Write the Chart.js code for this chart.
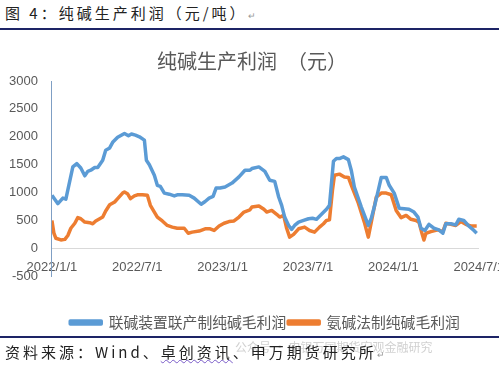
<!DOCTYPE html>
<html lang="zh">
<head>
<meta charset="UTF-8">
<title>纯碱生产利润</title>
<script src="https://cdn.jsdelivr.net/npm/chart.js"></script>
<style>
    html, body { margin: 0; padding: 0; background: #fff; }
    body { width: 499px; height: 367px; overflow: hidden; position: relative; font-family: "Noto Sans CJK SC", sans-serif; }
    .cap { position: absolute; left: 5px; top: 2px; font-size: 15px; letter-spacing: 3px; color: #222; white-space: nowrap; }
    .cap small, .src small { font-size: 9px; color: #999; letter-spacing: 0; }
    .rule1 { position: absolute; left: 0; top: 28px; width: 499px; height: 2px; background: #1d2466; }
    .rule2 { position: absolute; left: 0; top: 336px; width: 499px; height: 2px; background: #1d2466; z-index: 2; }
    .box { position: absolute; left: 0; top: 31px; width: 507px; height: 309px; }
    .src { position: absolute; left: 5px; top: 341px; font-size: 15px; letter-spacing: 3px; color: #222; white-space: nowrap; }
    .src u { text-decoration: underline wavy #7a5cc8; text-decoration-thickness: 1px; }
    .wm { position: absolute; left: 235px; top: 338px; font-size: 12px; color: rgba(150,150,150,0.45); white-space: nowrap; }
</style>
</head>
<body>
<div class="cap">图 4：纯碱生产利润（元/吨）<small>↵</small></div>
<div class="rule1"></div>
<div class="box"><canvas id="grafico"></canvas></div>
<div class="rule2"></div>
<div class="wm">公众号 · 申银万国期货宏观金融研究</div>
<div class="src">资料来源：Wind、<u>卓创资讯</u>、申万期货研究所<small>↵</small></div>

<script>
    // x = months since 2022/1/1
    const tickLabels = ['2022/1/1', '2022/7/1', '2023/1/1', '2023/7/1', '2024/1/1', '2024/7/1'];
    const seriesNames = ['联碱装置联产制纯碱毛利润', '氨碱法制纯碱毛利润'];

    const lianjianX = [0, 0.42, 0.77, 0.98, 1.47, 1.75, 2.03, 2.31, 2.52, 2.73, 3.01, 3.22, 3.57, 3.78, 4.06, 4.27, 4.62, 5.10, 5.38, 5.59,
        5.87, 6.15, 6.50, 6.64, 6.85, 7.20, 7.41, 7.62, 7.90, 8.25, 8.60, 8.81, 9.16, 9.65, 10.0, 10.49, 10.77, 11.05, 11.33, 11.54,
        11.82, 12.17, 12.66, 13.15, 13.57, 13.92, 14.06, 14.55, 14.97, 15.31, 15.66, 15.94, 16.15, 16.36, 16.64, 16.85, 17.06, 17.34, 17.69, 18.04,
        18.32, 18.60, 18.95, 19.30, 19.51, 19.79, 20.0, 20.21, 20.49, 20.84, 21.05, 21.26, 21.75, 22.24, 22.45, 22.66, 22.94, 23.15, 23.50, 23.71,
        24.06, 24.41, 24.76, 25.10, 25.45, 25.73, 25.94, 26.22, 26.50, 26.85, 27.20, 27.48, 27.69, 28.04, 28.39, 28.60, 28.95, 29.30, 29.58, 29.86];
    const lianjianY = [950, 800, 900, 880, 1460, 1520, 1440, 1300, 1380, 1400, 1450, 1450, 1580, 1760, 1800, 1900, 1990, 2060, 2020, 2050,
        2030, 2000, 1940, 1580, 1500, 1310, 1130, 1110, 990, 970, 940, 960, 960, 950, 900, 790, 840, 900, 930, 1080,
        1080, 1100, 1170, 1280, 1400, 1400, 1430, 1460, 1380, 1220, 1200, 920, 770, 560, 410, 340, 410, 470, 500, 530,
        540, 520, 610, 700, 770, 1560, 1610, 1610, 1640, 1590, 1390, 1100, 740, 410, 540, 740, 1040, 1270, 1270, 1130,
        990, 720, 710, 700, 650, 560, 360, 320, 430, 360, 330, 270, 440, 440, 420, 520, 500, 400, 340, 270];

    const anjianX = [0, 0.14, 0.28, 0.63, 0.91, 1.12, 1.33, 1.61, 1.82, 2.03, 2.31, 2.66, 2.87, 3.08, 3.36, 3.57, 3.78, 4.06, 4.41, 4.62,
        4.97, 5.10, 5.31, 5.52, 5.80, 6.01, 6.36, 6.71, 6.92, 7.20, 7.41, 7.76, 8.11, 8.46, 8.81, 9.30, 9.58, 9.86, 10.35, 10.77,
        11.12, 11.40, 11.75, 12.10, 12.45, 12.80, 13.15, 13.50, 13.92, 14.06, 14.55, 14.90, 15.10, 15.45, 15.80, 16.01, 16.29, 16.50, 16.71, 16.99,
        17.34, 17.76, 18.11, 18.46, 18.81, 19.09, 19.30, 19.51, 19.72, 19.86, 20.21, 20.56, 20.84, 21.05, 21.54, 21.96, 22.24, 22.45, 22.80, 23.15,
        23.50, 23.85, 24.20, 24.55, 24.90, 25.24, 25.59, 25.80, 26.01, 26.15, 26.29, 26.64, 27.13, 27.48, 27.69, 28.04, 28.39, 28.74, 29.09, 29.44, 29.86];
    const anjianY = [500, 270, 180, 150, 160, 230, 360, 450, 550, 530, 470, 460, 440, 490, 530, 560, 670, 780, 830, 890,
        990, 1010, 980, 890, 940, 960, 960, 950, 770, 650, 560, 490, 410, 380, 360, 360, 270, 290, 310, 350,
        350, 320, 400, 450, 480, 490, 560, 650, 690, 740, 760, 700, 650, 680, 610, 560, 590, 360, 200, 250,
        350, 380, 320, 290, 380, 440, 500, 510, 1040, 1310, 1330, 1280, 1270, 1130, 810, 470, 200, 470, 920, 990,
        990, 960, 680, 550, 590, 520, 500, 470, 270, 150, 270, 300, 330, 300, 450, 430, 410, 480, 430, 400, 400];

    function pares(xs, ys) {
        return xs.map(function (x, i) { return { x: x, y: ys[i] }; });
    }

    const fonteEixo = { family: 'Arial, "Liberation Sans"', size: 13 };

    // title sits a bit left of centre and the legend a bit right, as in the original
    const desloca = {
        id: 'desloca',
        afterLayout: function (chart) {
            chart.titleBlock.left -= 3;
            chart.titleBlock.right -= 3;
            chart.legend.left += 10;
            chart.legend.right += 10;
        }
    };

    const ctx = document.getElementById('grafico');
    new Chart(ctx, {
        type: 'line',
        data: {
            datasets: [{
                label: seriesNames[0],
                data: pares(lianjianX, lianjianY),
                borderColor: '#5b9bd5',
                backgroundColor: '#5b9bd5',
                borderWidth: 3.5,
                pointRadius: 0,
                borderJoinStyle: 'round'
            }, {
                label: seriesNames[1],
                data: pares(anjianX, anjianY),
                borderColor: '#ed7d31',
                backgroundColor: '#ed7d31',
                borderWidth: 3.5,
                pointRadius: 0,
                borderJoinStyle: 'round'
            }]
        },
        plugins: [desloca],
        options: {
            responsive: true,
            maintainAspectRatio: false,
            animation: false,
            layout: { padding: { left: 3, top: 0, right: 0, bottom: 0 } },
            plugins: {
                title: {
                    display: true,
                    text: '纯碱生产利润　（元）',
                    color: '#595959',
                    font: { family: '"Noto Sans CJK SC"', size: 20, weight: 'normal' },
                    padding: { top: 18, bottom: 8 }
                },
                legend: {
                    position: 'bottom',
                    labels: {
                        boxWidth: 31,
                        boxHeight: 3,
                        color: '#595959',
                        padding: 2,
                        font: { family: '"Noto Sans CJK SC"', size: 14.8 }
                    }
                },
                tooltip: { enabled: false }
            },
            scales: {
                x: {
                    type: 'linear',
                    min: 0,
                    max: 30,
                    position: { y: 0 },
                    grid: { display: false },
                    border: { display: true, color: '#d9d9d9', width: 1 },
                    ticks: {
                        stepSize: 6,
                        color: '#595959',
                        padding: 3,
                        maxRotation: 0,
                        font: fonteEixo,
                        callback: function (v) { return tickLabels[v / 6]; }
                    }
                },
                // empty bottom axis, only keeps the gap above the legend
                espaco: {
                    type: 'linear',
                    position: 'bottom',
                    min: 0,
                    max: 30,
                    grid: { display: false },
                    border: { display: false },
                    ticks: { display: false },
                    afterFit: function (s) { s.height = 37; }
                },
                y: {
                    min: -500,
                    max: 3000,
                    grid: { display: false },
                    border: { display: true, color: '#7f9fc4', width: 1 },
                    ticks: {
                        stepSize: 500,
                        color: '#595959',
                        padding: 6,
                        font: fonteEixo,
                        callback: function (v) { return String(v); }
                    }
                }
            }
        }
    });
</script>
</body>
</html>
